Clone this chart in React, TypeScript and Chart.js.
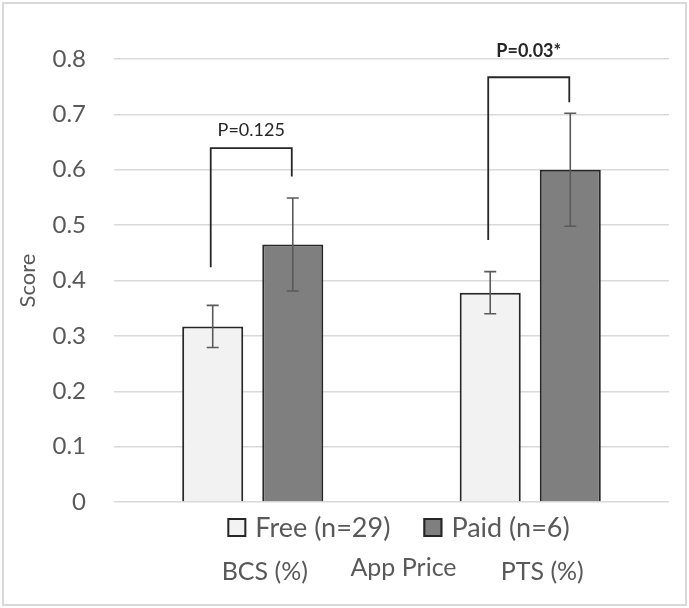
import React, { useEffect, useRef } from 'react';
import { Chart, registerables } from 'chart.js';

Chart.register(...registerables);

const categories = ['BCS (%)', 'PTS (%)'];
const seriesNames = ['Free (n=29)', 'Paid (n=6)'];
const freeValues = [0.317, 0.378];
const paidValues = [0.465, 0.6];
const freeErrors = [0.038, 0.038];
const paidErrors = [0.084, 0.102];
const yTickLabels = ['0', '0.1', '0.2', '0.3', '0.4', '0.5', '0.6', '0.7', '0.8'];
const bracketLeftEnds = [0.424, 0.473];
const bracketTops = [0.639, 0.767];
const bracketRightEnds = [0.588, 0.722];
const pLabels = ['P=0.125', 'P=0.03*'];
const pLabelBaselines = [0.661, 0.804];
const xAxisTitle = 'App Price';
const yAxisTitle = 'Score';

const FONT = 'Lato, "Open Sans", sans-serif';
const TEXT_GRAY = '#595959';
const DARK = '#262626';
const seriesFills = ['#f2f2f2', '#7f7f7f'];

const annotatePlugin = {
  id: 'annotate',
  beforeDraw(chart: any) {
    const { ctx, width, height } = chart;
    ctx.save();
    ctx.fillStyle = '#ffffff';
    ctx.fillRect(0, 0, width, height);
    ctx.strokeStyle = '#d9d9d9';
    ctx.lineWidth = 2;
    ctx.strokeRect(3, 3, width - 6, height - 6);
    ctx.restore();
  },
  afterDatasetsDraw(chart: any) {
    const { ctx } = chart;
    const y = chart.scales.y;
    const errs = [freeErrors, paidErrors];
    ctx.save();
    chart.data.datasets.forEach((ds: any, di: number) => {
      const meta = chart.getDatasetMeta(di);
      meta.data.forEach((bar: any, i: number) => {
        const v = ds.data[i];
        const e = errs[di][i];
        const x = bar.x;
        const yt = y.getPixelForValue(v + e);
        const yb = y.getPixelForValue(v - e);
        ctx.strokeStyle = '#5a5a5a';
        ctx.lineWidth = 1.6;
        ctx.beginPath();
        ctx.moveTo(x, yt);
        ctx.lineTo(x, yb);
        ctx.moveTo(x - 6, yt);
        ctx.lineTo(x + 6, yt);
        ctx.moveTo(x - 6, yb);
        ctx.lineTo(x + 6, yb);
        ctx.stroke();
      });
    });
    const m0 = chart.getDatasetMeta(0);
    const m1 = chart.getDatasetMeta(1);
    categories.forEach((_, i) => {
      const xl = m0.data[i].x - 2;
      const xr = m1.data[i].x - 1;
      ctx.strokeStyle = DARK;
      ctx.lineWidth = 1.8;
      ctx.beginPath();
      ctx.moveTo(xl, y.getPixelForValue(bracketLeftEnds[i]));
      ctx.lineTo(xl, y.getPixelForValue(bracketTops[i]));
      ctx.lineTo(xr, y.getPixelForValue(bracketTops[i]));
      ctx.lineTo(xr, y.getPixelForValue(bracketRightEnds[i]));
      ctx.stroke();
      ctx.fillStyle = DARK;
      ctx.font = (i === 1 ? 'bold ' : '') + '18px ' + FONT;
      ctx.textAlign = 'center';
      ctx.textBaseline = 'alphabetic';
      ctx.fillText(pLabels[i], (xl + xr) / 2, y.getPixelForValue(pLabelBaselines[i]));
    });
    ctx.restore();
  },
  afterDraw(chart: any) {
    const { ctx, chartArea } = chart;
    const cx = (chartArea.left + chartArea.right) / 2;
    ctx.save();
    ctx.font = '27px ' + FONT;
    const box = 19;
    const gap = 9;
    const itemGap = 33;
    const widths = seriesNames.map((s) => ctx.measureText(s).width);
    const total = widths.reduce((a, w) => a + box + gap + w, 0) + itemGap * (seriesNames.length - 1);
    let x = cx + 7 - total / 2;
    const baseline = chartArea.bottom + 35;
    chart.data.datasets.forEach((ds: any, di: number) => {
      ctx.fillStyle = ds.backgroundColor;
      ctx.fillRect(x, baseline - 19, box, box);
      ctx.strokeStyle = DARK;
      ctx.lineWidth = 2;
      ctx.strokeRect(x + 1, baseline - 18, box - 2, box - 2);
      ctx.fillStyle = TEXT_GRAY;
      ctx.textAlign = 'left';
      ctx.textBaseline = 'alphabetic';
      ctx.fillText(seriesNames[di], x + box + gap, baseline);
      x += box + gap + widths[di] + itemGap;
    });
    ctx.font = '25px ' + FONT;
    ctx.textAlign = 'center';
    ctx.fillStyle = TEXT_GRAY;
    ctx.fillText(xAxisTitle, cx + 12, chartArea.bottom + 74);
    ctx.restore();
  },
};

export default function App() {
  const ref = useRef<HTMLCanvasElement | null>(null);
  useEffect(() => {
    if (!ref.current) return;
    const chart = new Chart(ref.current, {
      type: 'bar',
      data: {
        labels: categories,
        datasets: [
          {
            label: seriesNames[0],
            data: freeValues,
            backgroundColor: seriesFills[0],
            borderColor: DARK,
            borderWidth: 2,
          },
          {
            label: seriesNames[1],
            data: paidValues,
            backgroundColor: seriesFills[1],
            borderColor: DARK,
            borderWidth: 2,
          },
        ],
      },
      options: {
        responsive: false,
        animation: false,
        layout: { padding: { top: 59, right: 20, left: 0, bottom: 0 } },
        datasets: {
          bar: { categoryPercentage: 0.577, barPercentage: 0.7625 },
        },
        plugins: {
          legend: { display: false },
          tooltip: { enabled: false },
        },
        scales: {
          x: {
            grid: { display: false, drawTicks: false },
            border: { display: false },
            ticks: {
              font: { family: FONT, size: 25 },
              color: TEXT_GRAY,
              padding: 55,
              labelOffset: 12,
            },
            afterFit: (scale: any) => {
              scale.height = 106;
            },
          },
          y: {
            min: 0,
            max: 0.8,
            grid: { color: '#d9d9d9', lineWidth: 1.5, drawTicks: false },
            border: { display: false },
            ticks: {
              stepSize: 0.1,
              font: { family: FONT, size: 24 },
              color: TEXT_GRAY,
              padding: 28,
              callback: (_v: any, i: number) => yTickLabels[i],
            },
            title: {
              display: true,
              text: yAxisTitle,
              font: { family: FONT, size: 22 },
              color: TEXT_GRAY,
              padding: { top: 15, bottom: 0 },
            },
            afterFit: (scale: any) => {
              scale.width = 114;
            },
          },
        },
      },
      plugins: [annotatePlugin],
    });
    return () => chart.destroy();
  }, []);
  return (
    <div style={{ position: 'fixed', left: 0, top: 0, width: 689, height: 608, background: '#fff' }}>
      <canvas ref={ref} width={689} height={608} />
    </div>
  );
}
